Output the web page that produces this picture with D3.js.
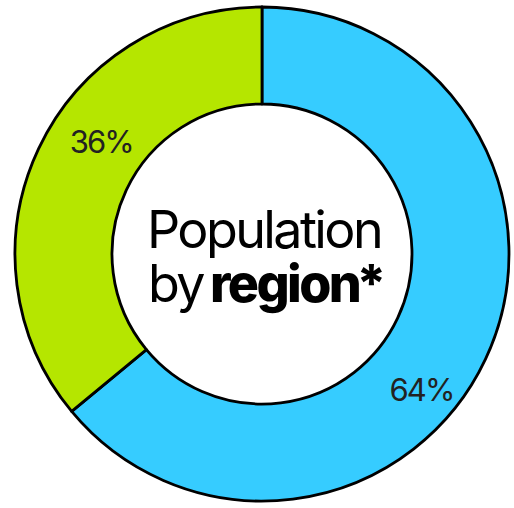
<!DOCTYPE html>
<html>
<head>
<meta charset="utf-8">
<script src="https://cdn.jsdelivr.net/npm/d3@7"></script>
<style>
  html, body { margin: 0; padding: 0; background: #fff; }
  svg { display: block; }
  text { font-family: Inter, "Noto Sans", sans-serif; }
</style>
</head>
<body>
<svg id="chart" width="514" height="508"></svg>
<script>
// Population share by region
const regions = ["Region A", "Region B"];
const shares = [64, 36];
const colors = ["#36ccff", "#b5e600"];

const width = 514, height = 508;
const cx = 262, cy = 254;
const outerR = 247, innerR = 150;

const svg = d3.select("#chart");
const g = svg.append("g").attr("transform", `translate(${cx},${cy})`);

const pie = d3.pie().sort(null).value(d => d.value);
const arcs = pie(regions.map((r, i) => ({ region: r, value: shares[i], color: colors[i] })));

const arc = d3.arc().innerRadius(innerR).outerRadius(outerR);

g.selectAll("path.slice")
  .data(arcs)
  .join("path")
  .attr("class", "slice")
  .attr("d", arc)
  .attr("fill", d => d.data.color)
  .attr("stroke", "#000")
  .attr("stroke-width", 2.8)
  .attr("stroke-linejoin", "round");

// percentage labels, placed a little past the middle of each slice
const labelR = 203;
const labels = svg.append("g").attr("transform", `translate(${cx + 7},${cy + 2})`);
labels.selectAll("text.pct")
  .data(arcs)
  .join("text")
  .attr("class", "pct")
  .attr("transform", d => {
    const a = d.startAngle + (d.endAngle - d.startAngle) * 0.57;
    return `translate(${labelR * Math.sin(a)},${-labelR * Math.cos(a)})`;
  })
  .attr("text-anchor", "middle")
  .attr("dy", "0.36em")
  .attr("font-size", 31)
  .attr("fill", "#222")
  .attr("letter-spacing", "-0.06em")
  .text(d => `${d.data.value}%`);

// centre title, two lines
const title = g.append("g")
  .attr("font-size", 52)
  .attr("fill", "#000")
  .attr("letter-spacing", "-0.05em");
title.append("text")
  .attr("text-anchor", "middle")
  .attr("x", 2).attr("y", -6)
  .text("Population");
const l2 = title.append("text")
  .attr("text-anchor", "middle")
  .attr("x", 4).attr("y", 48);
l2.append("tspan").text("by ");
l2.append("tspan").attr("font-weight", 800).attr("dx", -5).text("region");
l2.append("tspan").attr("font-weight", 800).attr("dx", -3).text("*");
</script>
</body>
</html>
